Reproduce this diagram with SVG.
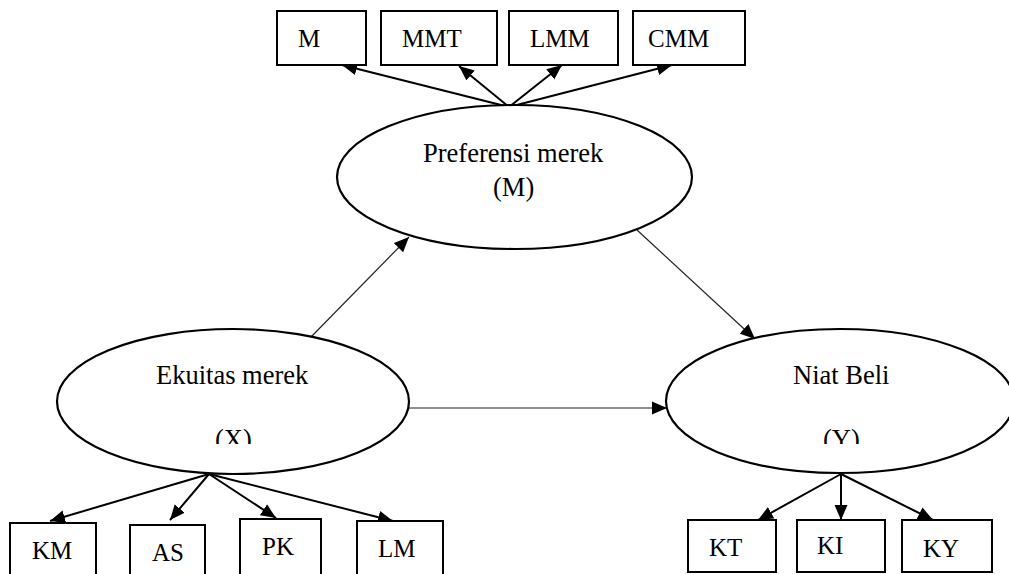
<svg xmlns="http://www.w3.org/2000/svg" width="1009" height="574" viewBox="0 0 1009 574">
<style>
.box{fill:#fff;stroke:#000;stroke-width:2}
.ell{fill:#fff;stroke:#000;stroke-width:2.2}
.t{font-family:"Liberation Serif","Times New Roman",serif;font-size:25px;fill:#000}
.te{font-family:"Liberation Serif","Times New Roman",serif;font-size:26.5px;fill:#000}
.ind{stroke:#000;stroke-width:2;fill:none}
.path{stroke:#222;stroke-width:1.2;fill:none}
</style>
<defs>
<marker id="ah" markerWidth="16" markerHeight="14" refX="15" refY="7" orient="auto" markerUnits="userSpaceOnUse">
<path d="M0,0.5 L15,7 L0,13.5 z" fill="#000"/>
</marker>
<clipPath id="clipTxt"><rect x="0" y="0" width="1009" height="444"/></clipPath>
</defs>
<rect width="1009" height="574" fill="#fff"/>

<g id="connectors">
<line class="ind" x1="509" y1="107" x2="342" y2="65" marker-end="url(#ah)"/>
<line class="ind" x1="509" y1="107" x2="459" y2="66" marker-end="url(#ah)"/>
<line class="ind" x1="509" y1="107" x2="562" y2="65" marker-end="url(#ah)"/>
<line class="ind" x1="509" y1="107" x2="672" y2="65" marker-end="url(#ah)"/>
<line class="ind" x1="209" y1="474" x2="50" y2="521" marker-end="url(#ah)"/>
<line class="ind" x1="209" y1="474" x2="170" y2="520" marker-end="url(#ah)"/>
<line class="ind" x1="209" y1="474" x2="276" y2="518" marker-end="url(#ah)"/>
<line class="ind" x1="209" y1="474" x2="393" y2="521" marker-end="url(#ah)"/>
<line class="ind" x1="841" y1="474" x2="758" y2="520" marker-end="url(#ah)"/>
<line class="ind" x1="841" y1="474" x2="841" y2="520" marker-end="url(#ah)"/>
<line class="ind" x1="841" y1="474" x2="933" y2="520" marker-end="url(#ah)"/>
<line class="path" x1="311" y1="337" x2="409" y2="237" marker-end="url(#ah)"/>
<line class="path" x1="637" y1="230" x2="755" y2="339" marker-end="url(#ah)"/>
<line class="path" x1="409" y1="408" x2="667" y2="408" marker-end="url(#ah)"/>
</g>

<g id="node-M-box"><rect class="box" x="277" y="11" width="89" height="54"/><text class="t" x="298" y="47">M</text></g>
<g id="node-MMT"><rect class="box" x="381" y="11" width="116" height="54"/><text class="t" x="402" y="47">MMT</text></g>
<g id="node-LMM"><rect class="box" x="509" y="11" width="109" height="54"/><text class="t" x="530" y="47">LMM</text></g>
<g id="node-CMM"><rect class="box" x="633" y="11" width="112" height="54"/><text class="t" x="648" y="47">CMM</text></g>

<g id="node-preferensi">
<ellipse class="ell" cx="514.5" cy="177" rx="177.5" ry="72"/>
<text class="te" x="423" y="162">Preferensi merek</text>
<text class="te" x="493" y="196">(M)</text>
</g>

<g id="node-ekuitas">
<ellipse class="ell" cx="233" cy="401.5" rx="176" ry="72.5"/>
<text class="te" x="156" y="384">Ekuitas merek</text>
<text class="te" x="215" y="448" clip-path="url(#clipTxt)">(X)</text>
</g>

<g id="node-niat">
<ellipse class="ell" cx="840" cy="401" rx="174" ry="72"/>
<text class="te" x="793" y="384">Niat Beli</text>
<text class="te" x="823" y="448" clip-path="url(#clipTxt)">(Y)</text>
</g>

<g id="node-KM"><rect class="box" x="10" y="523" width="86" height="60"/><text class="t" x="32" y="559">KM</text></g>
<g id="node-AS"><rect class="box" x="130" y="525" width="75" height="58"/><text class="t" x="152" y="561">AS</text></g>
<g id="node-PK"><rect class="box" x="240" y="519" width="81" height="64"/><text class="t" x="262" y="555">PK</text></g>
<g id="node-LM"><rect class="box" x="357" y="521" width="86" height="62"/><text class="t" x="378" y="557">LM</text></g>

<g id="node-KT"><rect class="box" x="688" y="520" width="88" height="52"/><text class="t" x="709" y="556">KT</text></g>
<g id="node-KI"><rect class="box" x="797" y="520" width="88" height="52"/><text class="t" x="817" y="554">KI</text></g>
<g id="node-KY"><rect class="box" x="902" y="520" width="90" height="52"/><text class="t" x="923" y="557">KY</text></g>
</svg>
